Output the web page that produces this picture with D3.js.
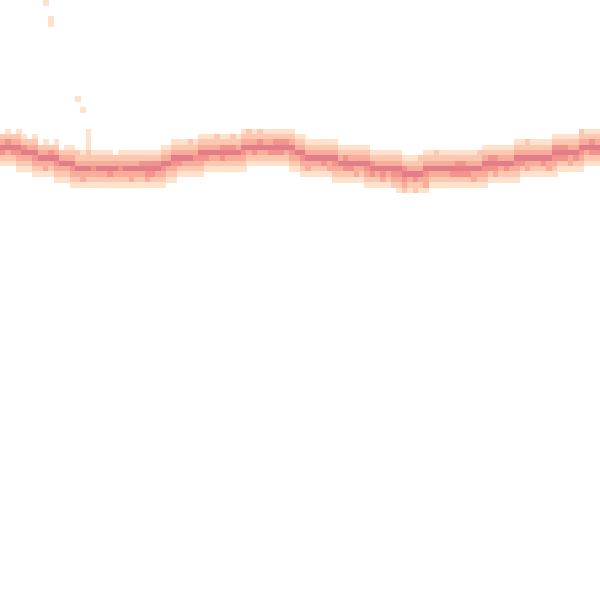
<!DOCTYPE html>
<html>
<head>
<meta charset="utf-8">
<script src="https://cdn.jsdelivr.net/npm/d3@7"></script>
<style>
html,body{margin:0;padding:0;background:#fff;}
svg{display:block;}
</style>
</head>
<body>
<svg id="chart" width="600" height="600"></svg>
<script>
// Grid of 112 x 112 bins
const nCols = 112;
const nRows = 112;
// Density levels (1 = lowest count, 5 = highest)
const levels = [1, 2, 3, 4, 5];
const levelColors = ["#fee2cb", "#fcc8b1", "#f8ad9a", "#f2948c", "#e27d8a"];
// Band: for each column, the top row index and counts of the bins going down
const bandTop = [
  24,24,24,24,25,25,25,26,26,26,26,27,27,27,28,28,28,28,28,28,
  28,28,28,28,28,28,28,28,28,28,27,27,26,26,26,26,26,25,25,25,
  25,25,25,25,25,24,24,24,24,24,24,24,24,24,24,25,25,26,26,26,
  26,26,26,27,27,27,27,27,27,28,28,28,28,28,28,29,29,29,29,28,
  28,28,28,28,28,28,28,28,28,28,27,27,27,27,27,27,26,26,26,26,
  26,26,26,25,25,25,25,25,24,24,24,24
];
const bandCounts = [
  "0235421","1245321","0235421","12354321","1245321","0235321","12354321","0235321","1235331","0245321",
  "12354321","0235321","1235321","12354321","2235321","1235331","2235321","1234321","1235321","1235321",
  "1235421","0235321","1234321","1235321","1235331","1235321","1245321","1245431","1245421","1245321",
  "12354321","1235321","12354321","1235421","1235321","2235321","1234321","12354321","1235421","1235321",
  "2235321","1245421","1245321","2245321","1235321","12354321","2235321","1235421","2245321","1235321",
  "1235421","1245421","1245421","1245321","12354321","1235321","12354321","1235331","1235321","1235321",
  "1235421","1235331","12354321","1235321","1245421","1235421","1235331","1235321","12354321","1245421",
  "1235321","1235431","1235321","1235432","12354321","1245432","1235321","1235422","2235321","12354331",
  "1235321","2235321","1235321","1235321","1235421","1245421","1245421","1235421","1235331","2235321",
  "12354321","1245421","1245431","1235321","1235421","1235321","12354321","1235421","2235331","1235321",
  "1235321","1235421","1235331","12454321","1245421","1245421","1235331","1235421","22354321","1235321",
  "1245421","1235421"
];
// Sparse outlier bins: [column, row, level]
const outlierCols = [8, 9, 9, 14, 15, 16, 16, 16, 16];
const outlierRows = [0, 3, 4, 18, 20, 24, 25, 26, 27];
const outlierLevels = [1, 1, 1, 1, 1, 1, 1, 1, 1];

// Build cell table
const cells = [];
bandTop.forEach((top, c) => {
  const s = bandCounts[c];
  for (let k = 0; k < s.length; k++) {
    const v = +s[k];
    if (v > 0) cells.push({col: c, row: top + k, v});
  }
});
outlierCols.forEach((c, i) => cells.push({col: c, row: outlierRows[i], v: outlierLevels[i]}));

const W = 600, H = 600;
const x = d3.scaleLinear().domain([0, nCols]).range([0, W]);
const y = d3.scaleLinear().domain([0, nRows]).range([0, H]);
const color = d3.scaleLinear().domain(levels).range(levelColors);

const svg = d3.select("#chart");
svg.append("g")
  .selectAll("rect")
  .data(cells)
  .join("rect")
  .attr("x", d => x(d.col))
  .attr("y", d => y(d.row))
  .attr("width", d => x(d.col + 1) - x(d.col) + 0.4)
  .attr("height", d => y(d.row + 1) - y(d.row) + 0.4)
  .attr("fill", d => color(d.v))
  .attr("shape-rendering", "crispEdges");
</script>
</body>
</html>
